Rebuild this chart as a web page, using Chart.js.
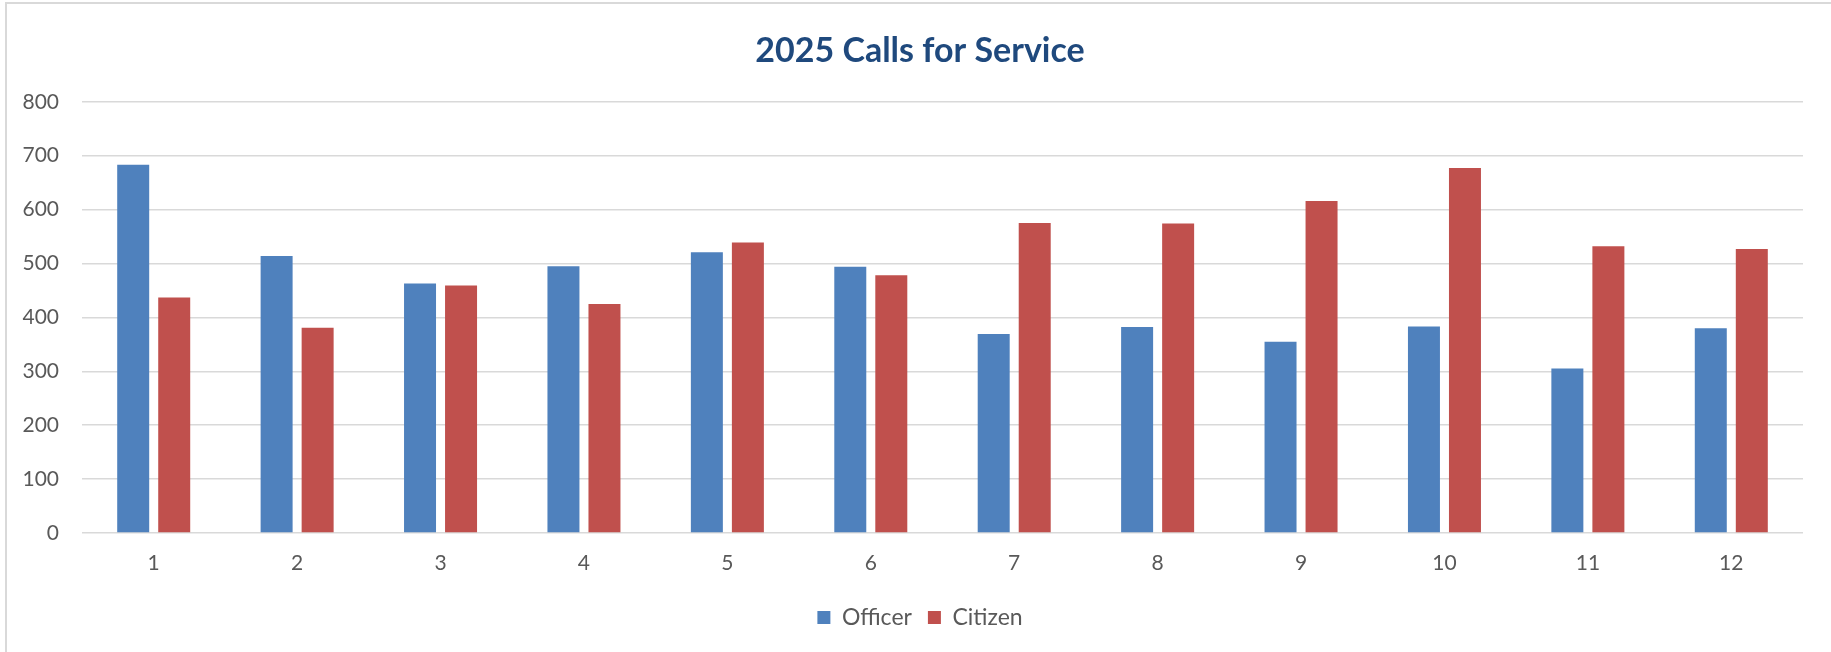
<!DOCTYPE html>
<html>
<head>
<meta charset="utf-8">
<script src="https://cdn.jsdelivr.net/npm/chart.js@4.4.1/dist/chart.umd.min.js"></script>
<style>
  html, body { margin: 0; padding: 0; background: #fff; }
  body { width: 1831px; height: 652px; position: relative; overflow: hidden; }
  #frame {
    position: absolute; left: 5px; top: 2px; width: 1826px; height: 650px;
    border-top: 2px solid #d9d9d9; border-left: 2px solid #d9d9d9; box-sizing: border-box;
  }
  #chart { position: absolute; left: 0; top: 0; }
</style>
</head>
<body>
<div id="frame"></div>
<canvas id="chart" width="1831" height="652"></canvas>
<script>
// Monthly calls for service
const months = ['1', '2', '3', '4', '5', '6', '7', '8', '9', '10', '11', '12'];
const officerCalls = [683, 514, 463, 495, 521, 494, 369, 382, 355, 383, 305, 380];
const citizenCalls = [437, 381, 459, 425, 539, 478, 575, 574, 616, 677, 532, 527];
const yTicks = [0, 100, 200, 300, 400, 500, 600, 700, 800];

const FONT = 'Lato, "Open Sans", sans-serif';
const GREY_TEXT = '#595959';

// let the y labels use the space left of the layout padding (no clipping)
const widenYLabels = {
    id: 'widenYLabels',
    afterLayout(chart) {
        chart.scales.y.left = 0;
    }
};

const ctx = document.getElementById('chart').getContext('2d');
new Chart(ctx, {
    type: 'bar',
    data: {
        labels: months,
        datasets: [
            {
                label: 'Officer',
                data: officerCalls,
                backgroundColor: '#4f81bd',
                categoryPercentage: 0.572,
                barPercentage: 0.78
            },
            {
                label: 'Citizen',
                data: citizenCalls,
                backgroundColor: '#c0504d',
                categoryPercentage: 0.572,
                barPercentage: 0.78
            }
        ]
    },
    plugins: [widenYLabels],
    options: {
        responsive: false,
        animation: false,
        layout: { padding: { left: 37, right: 28, top: 0, bottom: 13 } },
        plugins: {
            title: {
                display: true,
                text: '2025 Calls for Service',
                color: '#1f497d',
                font: { family: FONT, size: 34, weight: 'bold' },
                padding: { top: 31, bottom: 30 }
            },
            legend: {
                position: 'bottom',
                labels: {
                    color: GREY_TEXT,
                    font: { family: FONT, size: 23 },
                    boxWidth: 13,
                    boxHeight: 13,
                    padding: 16
                }
            },
            tooltip: { enabled: false }
        },
        scales: {
            x: {
                grid: { display: false, drawTicks: false },
                border: { display: false },
                ticks: { color: GREY_TEXT, font: { family: FONT, size: 21 }, padding: 18 },
                afterFit: (scale) => { scale.height = 57; }
            },
            y: {
                min: 0,
                max: 800,
                afterBuildTicks: (scale) => { scale.ticks = yTicks.map(v => ({ value: v })); },
                grid: { color: '#d9d9d9', lineWidth: 1.5, drawTicks: false },
                border: { display: false },
                ticks: { color: GREY_TEXT, font: { family: FONT, size: 21 }, padding: 23 },
                afterFit: (scale) => { scale.width = 45; }
            }
        }
    }
});
</script>
</body>
</html>
